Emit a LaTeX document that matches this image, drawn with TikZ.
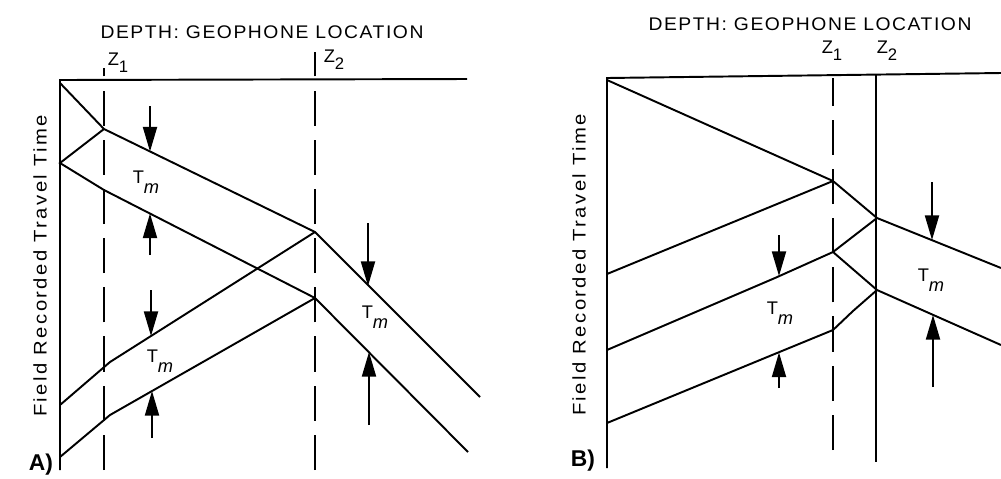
\documentclass[tikz,border=0pt]{standalone}
\usepackage{fontspec}
\usepackage{graphicx}
\setmainfont{Liberation Sans}
\newfontfamily\depthfont[LetterSpace=8]{Liberation Sans}
\newfontfamily\axisfont[LetterSpace=12]{Liberation Sans}
\usetikzlibrary{arrows.meta}
\newcommand{\Tm}{T\raisebox{-5.5pt}{\textit{m}}}
\newcommand{\Zsub}[1]{Z\raisebox{-4pt}{\fontsize{9.5}{10}\selectfont #1}}
\newcommand{\depthtext}{\resizebox{6.46cm}{\height}{\fontsize{10.4}{12}\selectfont\depthfont DEPTH: GEOPHONE LOCATION}}
\newcommand{\axistext}{\resizebox{6.04cm}{\height}{\fontsize{10.4}{12}\selectfont\axisfont Field Recorded Travel Time}}
\begin{document}
\begin{tikzpicture}[x=0.02cm,y=-0.02cm,
  line width=1.1pt, line join=miter,
  every node/.style={inner sep=0pt, font=\fontsize{10.4}{12}\selectfont},
  dashline/.style={line width=1pt, dash pattern=on 20pt off 8pt},
  marker/.style={line width=1pt, -{Triangle[length=14pt,width=8pt]}},
  axislabel/.style={rotate=90},
  panel/.style={font=\fontsize{13}{14}\selectfont\bfseries}]
\useasboundingbox (0,0) rectangle (1001,478);

% ================= Panel A =================
\node (capA) at (262,32) {\depthtext};
\node (zA1) at (118,63) {\Zsub{1}};
\node (zA2) at (334,60) {\Zsub{2}};
\node[axislabel] (axA) at (40,266) {\axistext};
\node[panel] (pA) at (41,465) {A)};

\coordinate (A00) at (60,80);
\coordinate (A0b) at (60,470);
\coordinate (A0r) at (467,79);
\draw (A0r) -- (A00) -- (A0b);
\draw[dashline] (104,470) -- (104,68);
\draw[dashline] (315,470) -- (315,52);

% band lines
\coordinate (a1s) at (60,83);
\coordinate (a1k) at (104,129);
\coordinate (a1z) at (315,232);
\coordinate (a1e) at (480,397);
\coordinate (a2s) at (60,163);
\coordinate (a2k) at (104,190);
\coordinate (a2z) at (315,298);
\coordinate (a2e) at (468,452);
\coordinate (a3s) at (60,405);
\coordinate (a3k) at (110,362);
\coordinate (a4s) at (60,457);
\coordinate (a4k) at (110,415);

\draw (a1s) -- (a1k) -- (a1z) -- (a1e);
\draw (a1k) -- (a2s) -- (a2k) -- (a2z) -- (a2e);
\draw (a3s) -- (a3k) -- (a1z);
\draw (a4s) -- (a4k) -- (a2z);

% arrows
\draw[marker] (150,106) -- (150,151.5);
\draw[marker] (150,255) -- (150,213.5);
\draw[marker] (151,290) -- (151,336);
\draw[marker] (152,438) -- (152,391);
\draw[marker] (368,223) -- (368,286);
\draw[marker] (369,425) -- (369,352);

\node (tA1) at (146,182) {\Tm};
\node (tA2) at (160,361) {\Tm};
\node (tA3) at (375,317) {\Tm};

% ================= Panel B =================
\node (capB) at (810,24) {\depthtext};
\node (zB1) at (832,51) {\Zsub{1}};
\node (zB2) at (887,51) {\Zsub{2}};
\node[axislabel] (axB) at (579,265) {\axistext};
\node[panel] (pB) at (583,461) {B)};

\coordinate (B00) at (607,78);
\coordinate (B0b) at (607,468);
\coordinate (B0r) at (1001,73);
\draw (B0r) -- (B00) -- (B0b);
\draw[dashline] (833,450) -- (833,78);
\draw (876,75) -- (876,462);

\coordinate (b1s) at (607,80);
\coordinate (b1k) at (833,181);
\coordinate (b1z) at (877,218);
\coordinate (b1e) at (1001,268);
\coordinate (b2s) at (607,274);
\coordinate (b3s) at (607,350);
\coordinate (b3m) at (775,278);
\coordinate (b3k) at (833,252);
\coordinate (b3z) at (877,290);
\coordinate (b3e) at (1001,345);
\coordinate (b4s) at (607,423);
\coordinate (b4m) at (777,353);
\coordinate (b4k) at (833,330);
\coordinate (b4c) at (853,311);

\draw (b1s) -- (b1k) -- (b1z) -- (b1e);
\draw (b2s) -- (b1k);
\draw (b3s) -- (b3m) -- (b3k) -- (b1z);
\draw (b3k) -- (b3z) -- (b3e);
\draw (b4s) -- (b4m) -- (b4k) -- (b4c) -- (b3z);

\draw[marker] (779,235) -- (779,276);
\draw[marker] (779,388) -- (779,352.5);
\draw[marker] (932,182) -- (932,240);
\draw[marker] (933,387) -- (933,315);

\node (tB1) at (780,313) {\Tm};
\node (tB2) at (931,280) {\Tm};
\end{tikzpicture}
\end{document}
